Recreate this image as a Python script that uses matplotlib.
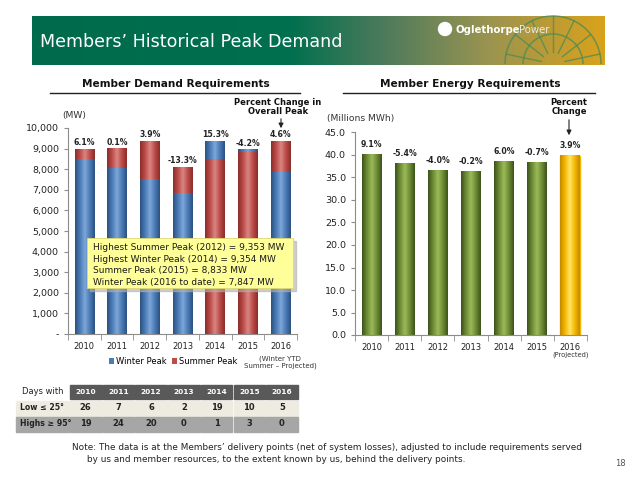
"""
Members' historical peak demand and energy requirements.
"""
import numpy as np
import matplotlib
matplotlib.use('Agg')
from matplotlib import pyplot as plt
from matplotlib.colors import LinearSegmentedColormap
from matplotlib.patches import Rectangle, Circle, Arc

years = ['2010', '2011', '2012', '2013', '2014', '2015', '2016']
winter_peak = [8450, 8040, 7480, 6800, 9354, 8950, 7847]
summer_peak = [8980, 8990, 9353, 8090, 8480, 8833, 9360]
peak_change = ['6.1%', '0.1%', '3.9%', '-13.3%', '15.3%', '-4.2%', '4.6%']

energy = [40.2, 38.0, 36.5, 36.4, 38.6, 38.3, 39.8]
energy_change = ['9.1%', '-5.4%', '-4.0%', '-0.2%', '6.0%', '-0.7%', '3.9%']

table_rows = ['Low \u2264 25\u00b0', 'Highs \u2265 95\u00b0']
low_days = [26, 7, 6, 2, 19, 10, 5]
high_days = [19, 24, 20, 0, 1, 3, 0]

box_lines = ['Highest Summer Peak (2012) = 9,353 MW',
             'Highest Winter Peak (2014) = 9,354 MW',
             'Summer Peak (2015) = 8,833 MW',
             'Winter Peak (2016 to date) = 7,847 MW']

blue = ['#2b527f', '#4a7bb7', '#7ea6d8', '#4a7bb7', '#2b527f']
red = ['#8a2d2a', '#bd4b48', '#d98784', '#bd4b48', '#8a2d2a']
green = ['#3c521c', '#6e8c35', '#9bbb59', '#6e8c35', '#3c521c']
gold = ['#c28a00', '#f5b800', '#ffe466', '#f5b800', '#c28a00']

plt.rcParams['font.family'] = 'DejaVu Sans'
fig = plt.figure(figsize=(6.37, 4.78), dpi=100)


def cylinder(ax, bar, cols):
    x, w = bar.get_x(), bar.get_width()
    y, h = bar.get_y(), bar.get_height()
    cmap = LinearSegmentedColormap.from_list('cyl', cols)
    ax.imshow(np.linspace(0, 1, 60)[None, :], cmap=cmap, aspect='auto',
              extent=[x, x + w, y, y + h], interpolation='bilinear',
              zorder=bar.get_zorder() + 0.01)


def style_axes(ax):
    for s in ('top', 'right'):
        ax.spines[s].set_visible(False)
    for s in ('left', 'bottom'):
        ax.spines[s].set_color('#8c8c8c')
    ax.tick_params(axis='y', colors='#8c8c8c', labelcolor='#222222', labelsize=6.8, length=3)
    ax.tick_params(axis='x', which='major', length=0, labelsize=6, labelcolor='#222222', pad=6)
    ax.tick_params(axis='x', which='minor', length=4, colors='#8c8c8c')
    ax.set_xticks(np.arange(len(years) + 1) - 0.5, minor=True)
    ax.set_facecolor('none')


# left chart: member demand
x = np.arange(len(years))
ax1 = fig.add_axes([68 / 637, 1 - 334 / 478, 229 / 637, 206 / 478])
wb = ax1.bar(x, winter_peak, width=0.6, color=blue[1], label='Winter Peak')
sb = ax1.bar(x, summer_peak, width=0.6, color=red[1], label='Summer Peak')
for i in range(len(years)):
    front_w = winter_peak[i] < summer_peak[i]
    wb[i].set_zorder(3 if front_w else 2)
    sb[i].set_zorder(2 if front_w else 3)
    cylinder(ax1, wb[i], blue)
    cylinder(ax1, sb[i], red)
    ax1.annotate(peak_change[i], (x[i], max(winter_peak[i], summer_peak[i])),
                 xytext=(0, 1.5), textcoords='offset points', ha='center', va='bottom',
                 fontsize=5.6, fontweight='bold', color='#222222')
ax1.set_xlim(-0.5, len(years) - 0.5)
ax1.set_ylim(0, 10000)
ax1.set_yticks(range(0, 10001, 1000))
ax1.set_yticklabels(['-'] + ['{:,}'.format(v) for v in range(1000, 10001, 1000)])
ax1.set_xticks(x)
ax1.set_xticklabels(years)
style_axes(ax1)
ax1.legend(loc='upper center', bbox_to_anchor=(0.46, -0.075), ncol=2, frameon=False,
           fontsize=6, handlelength=0.6, handleheight=0.6, columnspacing=0.6,
           handletextpad=0.3)

# right chart: member energy
ax2 = fig.add_axes([355 / 637, 1 - 335 / 478, 232 / 637, 202.5 / 478])
eb = ax2.bar(x, energy, width=0.6, color=green[1])
for i in range(len(years)):
    eb[i].set_zorder(2)
    cylinder(ax2, eb[i], gold if i == len(years) - 1 else green)
    ax2.annotate(energy_change[i], (x[i], energy[i]), xytext=(0, 4),
                 textcoords='offset points', ha='center', va='bottom',
                 fontsize=5.6, fontweight='bold', color='#222222')
    if i == len(years) - 1:
        eb[i].set_color(gold[1])
ax2.set_xlim(-0.5, len(years) - 0.5)
ax2.set_ylim(0, 45)
ax2.set_yticks(np.arange(0, 45.1, 5))
ax2.set_yticklabels(['{:.1f}'.format(v) for v in np.arange(0, 45.1, 5)])
ax2.set_xticks(x)
ax2.set_xticklabels(years)
style_axes(ax2)

# overlay in pixel coordinates for the slide decorations
ov = fig.add_axes([0, 0, 1, 1], zorder=5)
ov.axis('off')
ov.patch.set_visible(False)

# banner
bcmap = LinearSegmentedColormap.from_list(
    'banner', [(0, '#006b4c'), (0.45, '#00704e'), (0.62, '#4f7b5c'),
               (0.8, '#9b9450'), (1, '#d9a21c')])
ov.imshow(np.linspace(0, 1, 256)[None, :], cmap=bcmap, aspect='auto',
          extent=[32, 605, 65, 16], zorder=1)
ov.set_xlim(0, 637)
ov.set_ylim(478, 0)
arch = '#4a8a55'
for r in (48, 30):
    ov.add_patch(Arc((553, 64), 2 * r, 2 * r, theta1=180, theta2=360, color=arch,
                     lw=1.1, alpha=0.75, zorder=2))
for ang in np.linspace(12, 168, 7):
    a = np.radians(ang)
    ov.plot([553 + 12 * np.cos(a), 553 + 48 * np.cos(a)],
            [64 - 12 * np.sin(a), 64 - 48 * np.sin(a)],
            color=arch, lw=1.0, alpha=0.75, zorder=2)
ov.text(40, 42, 'Members\u2019 Historical Peak Demand', color='white', fontsize=12.6,
        va='center', ha='left', zorder=3)
ov.add_patch(Circle((445, 29), 6.5, color='white', zorder=3))
t_ogle = ov.text(455, 29.5, 'Oglethorpe', color='white', fontsize=7.3, fontweight='bold',
                 va='center', ha='left', zorder=3)
ov.annotate('Power', xy=(1, 0.5), xycoords=t_ogle, color='#ececec', fontsize=7.3,
            va='center', ha='left', zorder=3)

# section titles
ov.text(176, 84, 'Member Demand Requirements', fontsize=7.6, fontweight='bold',
        ha='center', va='center', color='#111111')
ov.plot([50, 300], [93, 93], color='#222222', lw=1)
ov.text(470, 84, 'Member Energy Requirements', fontsize=7.6, fontweight='bold',
        ha='center', va='center', color='#111111')
ov.plot([343, 595], [93, 93], color='#222222', lw=1)

ov.text(62, 115, '(MW)', fontsize=6.6, ha='left', va='center', color='#333333')
ov.text(327, 118, '(Millions MWh)', fontsize=6.6, ha='left', va='center', color='#333333')

ov.text(278, 107, 'Percent Change in\nOverall Peak', fontsize=6, fontweight='bold',
        ha='center', va='center', linespacing=1.05, color='#111111')
ov.annotate('', xy=(281, 131), xytext=(281, 116),
            arrowprops=dict(arrowstyle='-|>', color='#222222', lw=0.8, mutation_scale=7))
ov.text(569, 107, 'Percent\nChange', fontsize=6, fontweight='bold',
        ha='center', va='center', linespacing=1.05, color='#111111')
ov.annotate('', xy=(569, 138), xytext=(569, 117),
            arrowprops=dict(arrowstyle='-|>', color='#222222', lw=0.8, mutation_scale=7))

ov.text(280, 362, '(Winter YTD\nSummer \u2013 Projected)', fontsize=5, ha='center',
        va='center', linespacing=1.15, color='#333333')
ov.text(571, 355, '(Projected)', fontsize=4.8, ha='center', va='center', color='#333333')

# yellow call-out box
ov.add_patch(Rectangle((90, 241), 206, 50, color='#b0b0b0', alpha=0.6, zorder=3))
ov.add_patch(Rectangle((87, 238), 206, 50, facecolor='#ffff99', edgecolor='#e0d870',
                       lw=0.6, zorder=4))
for k, line in enumerate(box_lines):
    ov.text(93, 247.5 + k * 11.7, line, fontsize=6.5, ha='left', va='center',
            color='#1a1a1a', zorder=5)

# temperature table
col_w = 32.7
ov.text(22, 392, 'Days with', fontsize=6, ha='left', va='center', color='#222222')
for j, yr in enumerate(years):
    x0 = 70 + j * col_w
    ov.add_patch(Rectangle((x0, 385), col_w - 1.2, 14, color='#595959'))
    ov.text(x0 + col_w / 2 - 0.6, 392, yr, fontsize=5.3, fontweight='bold',
            color='white', ha='center', va='center')
row_colors = ['#eeece1', '#a6a6a6']
for r, (label, vals) in enumerate(zip(table_rows, [low_days, high_days])):
    y0 = 400.5 + r * 16
    ov.add_patch(Rectangle((16, y0), 53, 15, color=row_colors[r]))
    ov.text(20, y0 + 7.5, label, fontsize=5.6, fontweight='bold', ha='left',
            va='center', color='#222222')
    for j, v in enumerate(vals):
        x0 = 70 + j * col_w
        ov.add_patch(Rectangle((x0, y0), col_w - 1.2, 15, color=row_colors[r]))
        ov.text(x0 + col_w / 2 - 0.6, y0 + 7.5, str(v), fontsize=6, fontweight='bold',
                ha='center', va='center', color='#222222')

# footnote
ov.text(72, 447, 'Note: The data is at the Members\u2019 delivery points (net of system losses), '
        'adjusted to include requirements served', fontsize=6.4, ha='left', va='center',
        color='#222222')
ov.text(87, 460, 'by us and member resources, to the extent known by us, behind the delivery points.',
        fontsize=6.4, ha='left', va='center', color='#222222')
ov.text(626, 463, '18', fontsize=6, ha='right', va='center', color='#555555')

fig.savefig('out.png', dpi=100)
